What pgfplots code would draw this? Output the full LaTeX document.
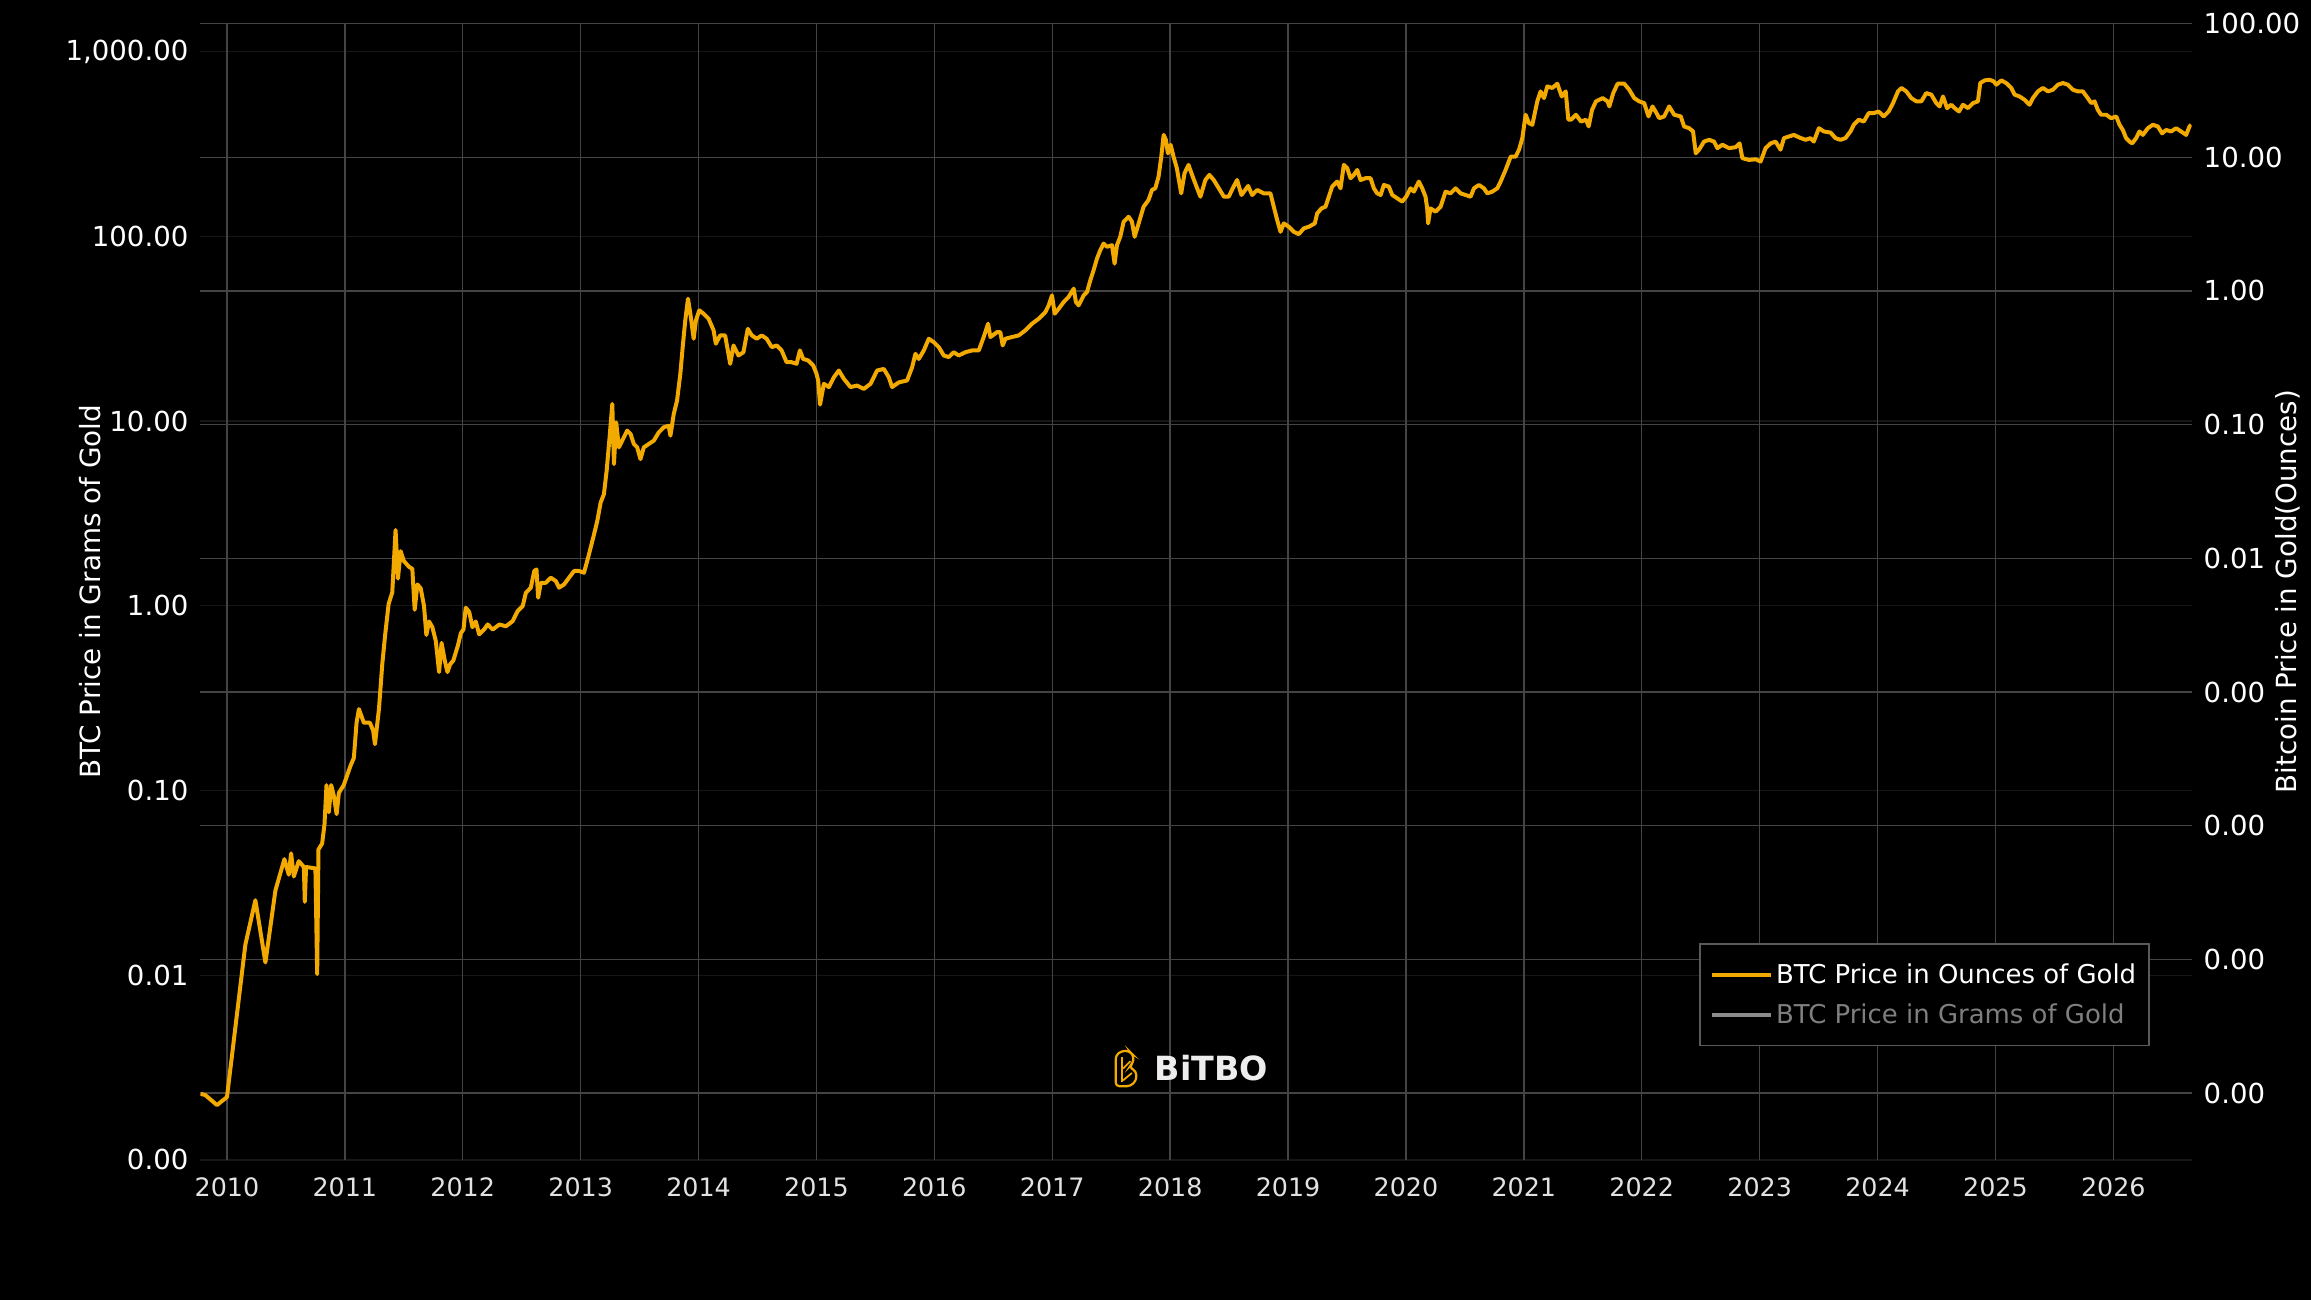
\documentclass[border=0pt]{standalone}
\usepackage{pgfplots}
\pgfplotsset{compat=1.18}
\usepackage{fontspec}
\setmainfont{DejaVu Sans}
\definecolor{btc}{HTML}{F2A900}
\definecolor{gridc}{HTML}{444444}
\definecolor{gridf}{HTML}{161616}
\definecolor{legtxt}{HTML}{7F7F7F}
\definecolor{legline}{HTML}{8C8C8C}
\definecolor{legbox}{HTML}{5A5A5A}
\definecolor{xlab}{HTML}{E2E2E2}
\begin{document}
\begin{tikzpicture}
\fill[black] (-136bp,-95bp) rectangle (1432bp,787bp);
% left axis: grams (trace hidden)
\begin{axis}[
  at={(0,0)}, anchor=south west, scale only axis,
  width=1351bp, height=771bp,
  xmin=2009.775, xmax=2026.6625,
  ymode=log, ymin=1e-3, ymax=1418,
  axis line style={draw=none},
  major tick length=0pt, minor tick length=0pt,
  yminorticks=false,
  xtick={2010,...,2026},
  xticklabels={2010,2011,2012,2013,2014,2015,2016,2017,2018,2019,2020,2021,2022,2023,2024,2025,2026},
  xticklabel style={font=\fontsize{17.2bp}{20bp}\selectfont, text=xlab, inner sep=0pt, anchor=north, yshift=-12bp},
  ytick={1e-3,1e-2,1e-1,1,10,100,1000},
  yticklabels={0.00,0.01,0.10,1.00,10.00,100.00,{1,000.00}},
  yticklabel style={font=\fontsize{18.7bp}{22bp}\selectfont, text=white, inner sep=0pt, anchor=east, xshift=-8bp},
  ymajorgrids,
  major grid style={gridf, line width=0.9bp},
  ylabel={BTC Price in Grams of Gold},
  every axis y label/.style={at={(axis description cs:-0.0555,0.5)}, rotate=90, anchor=center, font=\fontsize{18.9bp}{22bp}\selectfont, text=white},
]
\end{axis}
% right axis: ounces
\begin{axis}[
  at={(0,0)}, anchor=south west, scale only axis,
  width=1351bp, height=771bp,
  xmin=2009.775, xmax=2026.6625,
  ymode=log, ymin=3.16e-7, ymax=100,
  axis y line*=right,
  axis line style={draw=none},
  major tick length=0pt, minor tick length=0pt,
  yminorticks=false,
  xtick={2010,...,2026},
  xticklabels={},
  xmajorgrids, ymajorgrids,
  major grid style={gridc, line width=0.9bp},
  ytick={1e-6,1e-5,1e-4,1e-3,1e-2,1e-1,1,10,100},
  yticklabels={0.00,0.00,0.00,0.00,0.01,0.10,1.00,10.00,100.00},
  yticklabel style={font=\fontsize{18.7bp}{22bp}\selectfont, text=white, inner sep=0pt, anchor=west, xshift=8bp},
  ylabel={Bitcoin Price in Gold(Ounces)},
  every axis y label/.style={at={(axis description cs:1.0485,0.5)}, rotate=90, anchor=center, font=\fontsize{18.8bp}{22bp}\selectfont, text=white},
  legend style={at={(rel axis cs:0.9793,0.1907)}, anchor=north east, fill=black, draw=legbox, line width=1.3bp,
    text=white, font=\fontsize{17.6bp}{21bp}\selectfont, inner xsep=6.5bp, inner ysep=11bp, row sep=7bp,
    nodes={inner sep=2.5bp}},
  legend cell align=left,
  legend image code/.code={\draw[#1, line width=2.6bp] (0bp,0bp) -- (40bp,0bp);},
]
\addplot[btc, line width=2.7bp, line join=round] coordinates {
(2009.776,9.86e-7) (2009.816,9.66e-7) (2009.915,8.13e-7) (2010.000,9.33e-7)
(2010.156,1.29e-5) (2010.241,2.77e-5) (2010.326,9.48e-6) (2010.411,3.28e-5)
(2010.487,5.62e-5) (2010.524,4.30e-5) (2010.544,6.21e-5) (2010.567,4.17e-5)
(2010.609,5.43e-5) (2010.652,4.91e-5) (2010.660,2.69e-5) (2010.671,4.91e-5)
(2010.750,4.79e-5) (2010.765,7.76e-6) (2010.776,6.64e-5) (2010.807,7.35e-5)
(2010.827,1.02e-4) (2010.844,2.01e-4) (2010.864,1.26e-4) (2010.884,2.01e-4)
(2010.907,1.66e-4) (2010.930,1.22e-4) (2010.949,1.76e-4) (2010.990,2.01e-4)
(2011.025,2.46e-4) (2011.048,2.81e-4) (2011.076,3.21e-4) (2011.099,5.89e-4)
(2011.119,7.45e-4) (2011.161,5.89e-4) (2011.212,5.89e-4) (2011.240,5.14e-4)
(2011.255,4.07e-4) (2011.289,7.45e-4) (2011.317,1.61e-3) (2011.343,2.75e-3)
(2011.371,4.56e-3) (2011.402,5.57e-3) (2011.430,1.63e-2) (2011.450,7.05e-3)
(2011.473,1.13e-2) (2011.500,9.55e-3) (2011.544,8.63e-3) (2011.572,8.34e-3)
(2011.592,4.12e-3) (2011.615,6.38e-3) (2011.643,5.97e-3) (2011.671,4.41e-3)
(2011.691,2.67e-3) (2011.714,3.37e-3) (2011.742,3.05e-3) (2011.771,2.41e-3)
(2011.799,1.41e-3) (2011.820,2.33e-3) (2011.847,1.72e-3) (2011.870,1.41e-3)
(2011.892,1.61e-3) (2011.920,1.72e-3) (2011.960,2.25e-3) (2011.983,2.75e-3)
(2012.006,2.94e-3) (2012.025,4.27e-3) (2012.054,3.98e-3) (2012.082,3.05e-3)
(2012.110,3.37e-3) (2012.139,2.70e-3) (2012.181,2.94e-3) (2012.211,3.20e-3)
(2012.254,2.93e-3) (2012.310,3.20e-3) (2012.366,3.10e-3) (2012.423,3.39e-3)
(2012.465,4.03e-3) (2012.508,4.39e-3) (2012.535,5.52e-3) (2012.577,6.03e-3)
(2012.606,8.04e-3) (2012.625,8.26e-3) (2012.639,5.07e-3) (2012.662,6.56e-3)
(2012.704,6.56e-3) (2012.746,7.16e-3) (2012.789,6.76e-3) (2012.817,6.03e-3)
(2012.859,6.38e-3) (2012.901,7.16e-3) (2012.944,8.04e-3) (2012.986,8.04e-3)
(2013.028,7.80e-3) (2013.070,1.07e-2) (2013.113,1.51e-2) (2013.141,1.91e-2)
(2013.169,2.61e-2) (2013.197,3.02e-2) (2013.220,4.52e-2) (2013.245,8.04e-2)
(2013.268,1.43e-1) (2013.282,5.07e-2) (2013.301,1.04e-1) (2013.324,6.76e-2)
(2013.352,7.59e-2) (2013.394,9.02e-2) (2013.423,8.51e-2) (2013.451,7.16e-2)
(2013.479,6.76e-2) (2013.507,5.52e-2) (2013.535,6.76e-2) (2013.577,7.16e-2)
(2013.620,7.59e-2) (2013.662,8.75e-2) (2013.704,9.55e-2) (2013.746,9.82e-2)
(2013.761,8.26e-2) (2013.789,1.20e-1) (2013.817,1.51e-1) (2013.845,2.40e-1)
(2013.865,3.80e-1) (2013.887,6.03e-1) (2013.910,8.75e-1) (2013.930,6.76e-1)
(2013.958,4.39e-1) (2013.977,6.03e-1) (2014.006,7.16e-1) (2014.042,6.76e-1)
(2014.085,6.19e-1) (2014.127,5.07e-1) (2014.146,4.03e-1) (2014.183,4.65e-1)
(2014.225,4.65e-1) (2014.268,2.85e-1) (2014.296,3.91e-1) (2014.338,3.29e-1)
(2014.380,3.48e-1) (2014.417,5.21e-1) (2014.451,4.65e-1) (2014.493,4.39e-1)
(2014.535,4.65e-1) (2014.577,4.39e-1) (2014.620,3.80e-1) (2014.662,3.91e-1)
(2014.704,3.59e-1) (2014.746,2.93e-1) (2014.789,2.93e-1) (2014.831,2.85e-1)
(2014.859,3.59e-1) (2014.887,3.10e-1) (2014.930,3.02e-1) (2014.972,2.77e-1)
(2015.000,2.40e-1) (2015.014,2.14e-1) (2015.030,1.41e-1) (2015.062,2.02e-1)
(2015.105,1.91e-1) (2015.147,2.26e-1) (2015.189,2.54e-1) (2015.232,2.20e-1)
(2015.288,1.91e-1) (2015.345,1.96e-1) (2015.401,1.85e-1) (2015.458,2.02e-1)
(2015.514,2.54e-1) (2015.571,2.61e-1) (2015.613,2.26e-1) (2015.641,1.91e-1)
(2015.698,2.07e-1) (2015.768,2.14e-1) (2015.811,2.69e-1) (2015.839,3.39e-1)
(2015.867,3.10e-1) (2015.910,3.59e-1) (2015.952,4.39e-1) (2015.994,4.14e-1)
(2016.037,3.80e-1) (2016.079,3.29e-1) (2016.121,3.20e-1) (2016.164,3.48e-1)
(2016.206,3.29e-1) (2016.263,3.48e-1) (2016.319,3.59e-1) (2016.376,3.59e-1)
(2016.418,4.52e-1) (2016.455,5.69e-1) (2016.475,4.52e-1) (2016.531,4.92e-1)
(2016.559,4.92e-1) (2016.579,3.91e-1) (2016.602,4.39e-1) (2016.658,4.52e-1)
(2016.715,4.65e-1) (2016.771,5.07e-1) (2016.828,5.69e-1) (2016.884,6.19e-1)
(2016.941,6.95e-1) (2016.969,7.80e-1) (2016.997,9.27e-1) (2017.020,6.76e-1)
(2017.054,7.36e-1) (2017.096,8.26e-1) (2017.138,9.02e-1) (2017.181,1.04)
(2017.200,8.26e-1) (2017.223,7.80e-1) (2017.266,9.27e-1) (2017.294,9.82e-1)
(2017.322,1.20) (2017.350,1.43) (2017.379,1.75) (2017.407,2.02)
(2017.435,2.26) (2017.463,2.14) (2017.506,2.20) (2017.528,1.60)
(2017.548,2.20) (2017.576,2.54) (2017.605,3.30) (2017.647,3.59)
(2017.675,3.30) (2017.698,2.54) (2017.732,3.20) (2017.774,4.27)
(2017.816,4.79) (2017.845,5.69) (2017.873,5.86) (2017.901,7.16)
(2017.924,10.1) (2017.944,14.7) (2017.963,13.5) (2017.980,10.7)
(2018.003,12.4) (2018.028,10.1) (2018.056,8.28) (2018.093,5.37)
(2018.121,7.59) (2018.155,8.77) (2018.185,7.38) (2018.228,5.86)
(2018.256,5.07) (2018.298,6.76) (2018.332,7.38) (2018.369,6.76)
(2018.412,5.86) (2018.455,5.07) (2018.496,5.07) (2018.530,5.86)
(2018.567,6.76) (2018.604,5.22) (2018.661,6.10) (2018.695,5.22)
(2018.737,5.69) (2018.793,5.37) (2018.850,5.37) (2018.878,4.27)
(2018.907,3.39) (2018.935,2.77) (2018.963,3.20) (2019.006,3.02)
(2019.048,2.77) (2019.090,2.66) (2019.133,2.94) (2019.175,3.02)
(2019.226,3.20) (2019.246,3.80) (2019.283,4.15) (2019.317,4.27)
(2019.345,5.07) (2019.373,6.03) (2019.416,6.58) (2019.444,5.86)
(2019.472,8.77) (2019.501,8.28) (2019.529,6.97) (2019.557,7.38)
(2019.586,8.04) (2019.614,6.76) (2019.656,6.97) (2019.699,6.97)
(2019.727,5.86) (2019.755,5.37) (2019.784,5.22) (2019.812,6.21)
(2019.854,6.03) (2019.883,5.22) (2019.925,4.93) (2019.967,4.66)
(2020.001,5.07) (2020.038,5.86) (2020.066,5.53) (2020.108,6.58)
(2020.137,5.86) (2020.165,5.07) (2020.179,4.15) (2020.187,3.20)
(2020.207,4.15) (2020.250,3.92) (2020.293,4.27) (2020.335,5.53)
(2020.377,5.37) (2020.420,5.86) (2020.462,5.37) (2020.505,5.22)
(2020.547,5.07) (2020.576,5.86) (2020.618,6.21) (2020.660,5.86)
(2020.689,5.37) (2020.731,5.53) (2020.774,5.86) (2020.802,6.58)
(2020.844,8.04) (2020.887,10.1) (2020.929,10.1) (2020.958,11.4)
(2020.986,13.9) (2021.014,20.8) (2021.042,18.0) (2021.071,17.5)
(2021.113,26.2) (2021.141,31.1) (2021.170,27.7) (2021.198,33.9)
(2021.240,33.0) (2021.283,35.5) (2021.320,28.5) (2021.354,31.1)
(2021.376,19.1) (2021.399,19.1) (2021.441,20.8) (2021.484,18.5)
(2021.526,19.1) (2021.549,17.0) (2021.577,22.6) (2021.611,26.2)
(2021.667,27.7) (2021.709,26.2) (2021.724,24.0) (2021.757,30.2)
(2021.794,35.5) (2021.850,35.5) (2021.893,32.0) (2021.935,27.7)
(2021.977,26.2) (2022.020,25.4) (2022.056,20.2) (2022.090,24.0)
(2022.124,21.4) (2022.147,19.6) (2022.189,20.2) (2022.231,24.0)
(2022.274,20.8) (2022.330,20.2) (2022.358,17.0) (2022.401,16.5)
(2022.434,15.6) (2022.457,10.7) (2022.485,11.4) (2022.527,13.1)
(2022.570,13.5) (2022.612,13.1) (2022.640,11.7) (2022.683,12.4)
(2022.739,11.7) (2022.796,11.9) (2022.829,12.7) (2022.852,9.84)
(2022.908,9.55) (2022.965,9.66) (2023.007,9.29) (2023.049,11.7)
(2023.092,12.7) (2023.134,13.1) (2023.176,11.4) (2023.205,13.9)
(2023.247,14.3) (2023.289,14.7) (2023.332,14.1) (2023.388,13.5)
(2023.430,13.9) (2023.458,13.1) (2023.501,16.5) (2023.543,15.6)
(2023.600,15.3) (2023.642,13.9) (2023.684,13.5) (2023.726,13.9)
(2023.769,15.6) (2023.797,17.5) (2023.839,19.1) (2023.882,18.5)
(2023.924,21.4) (2023.966,21.4) (2024.008,22.0) (2024.051,20.2)
(2024.093,22.0) (2024.130,25.4) (2024.172,31.1) (2024.201,33.0)
(2024.243,31.1) (2024.285,27.7) (2024.328,26.2) (2024.370,26.2)
(2024.412,30.2) (2024.455,29.4) (2024.497,25.4) (2024.525,24.0)
(2024.554,28.5) (2024.588,23.3) (2024.624,24.7) (2024.653,23.3)
(2024.689,22.0) (2024.723,24.7) (2024.766,23.3) (2024.808,25.4)
(2024.850,26.2) (2024.870,35.9) (2024.907,37.6) (2024.949,38.0)
(2024.983,37.0) (2025.006,34.9) (2025.048,37.6) (2025.090,35.9)
(2025.133,33.0) (2025.161,29.4) (2025.203,28.5) (2025.246,26.9)
(2025.288,24.7) (2025.316,27.7) (2025.359,31.1) (2025.401,33.0)
(2025.444,31.1) (2025.486,32.0) (2025.528,34.9) (2025.571,35.9)
(2025.613,34.9) (2025.655,32.0) (2025.698,31.1) (2025.740,31.1)
(2025.782,27.7) (2025.811,25.4) (2025.839,26.2) (2025.867,22.6)
(2025.895,20.8) (2025.938,20.8) (2025.980,19.6) (2026.023,20.2)
(2026.051,17.5) (2026.079,16.0) (2026.107,13.9) (2026.136,13.1)
(2026.158,12.7) (2026.192,13.9) (2026.220,15.6) (2026.249,14.7)
(2026.291,16.5) (2026.333,17.5) (2026.376,17.0) (2026.412,15.1)
(2026.446,16.0) (2026.489,15.6) (2026.531,16.5) (2026.573,15.6)
(2026.616,14.7) (2026.644,17.0) (2026.658,17.5)
};
\addlegendentry{BTC Price in Ounces of Gold}
\addlegendimage{legline, line width=2.6bp}
\addlegendentry{\textcolor{legtxt}{BTC Price in Grams of Gold}}
\end{axis}
% BITBO watermark
\node[text=white!93!black, font=\fontsize{22.6bp}{26bp}\selectfont\bfseries, inner sep=0pt] at (686bp,62bp) {BiTBO};
\begin{scope}[shift={(621bp,50bp)}]
\draw[btc, line width=1.5bp, rounded corners=2.5bp] (0bp,0bp) -- (0bp,21bp) -- (4bp,24bp) -- (9bp,24bp) -- (12bp,21bp) -- (12bp,16bp) -- (9bp,13bp) -- (14bp,10bp) -- (14bp,4bp) -- (10bp,0bp) -- cycle;
\draw[btc, line width=1.5bp, rounded corners=2bp] (4bp,3bp) -- (4bp,20bp);
\draw[btc, line width=1.2bp] (5bp,12bp) -- (10bp,17bp);
\draw[btc, line width=1.2bp] (5bp,4bp) -- (11bp,9bp);
\end{scope}
\end{tikzpicture}
\end{document}
